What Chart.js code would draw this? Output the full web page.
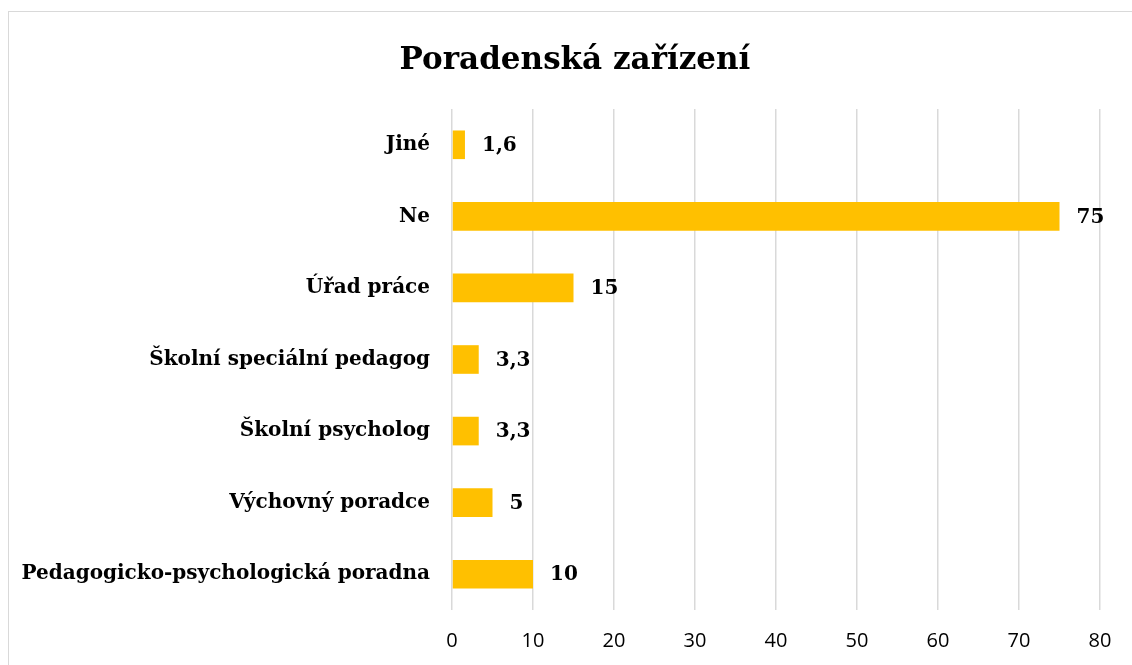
<!DOCTYPE html>
<html>
<head>
<meta charset="utf-8">
<script src="https://cdn.jsdelivr.net/npm/chart.js@4.4.1/dist/chart.umd.min.js"></script>
<style>
  html, body { margin: 0; padding: 0; background: #fff; }
  #wrap { position: relative; width: 1132px; height: 665px; overflow: hidden; }
  #frame { position: absolute; left: 8px; top: 11px; width: 1130px; height: 700px; border: 1px solid #d9d9d9; box-sizing: border-box; }
  canvas { position: absolute; left: 0; top: 0; }
</style>
</head>
<body>
<div id="wrap">
  <div id="frame"></div>
  <canvas id="c" width="1132" height="665"></canvas>
</div>
<script>
const chartTitle = "Poradenská zařízení";
const categories = ["Jiné", "Ne", "Úřad práce", "Školní speciální pedagog", "Školní psycholog", "Výchovný poradce", "Pedagogicko-psychologická poradna"];
const values = [1.6, 75, 15, 3.3, 3.3, 5, 10];
const xTicks = [0, 10, 20, 30, 40, 50, 60, 70, 80];

const serif = "'DejaVu Serif', 'Liberation Serif', serif";
const sans = "'Open Sans', 'Liberation Sans', sans-serif";

const titleDraw = {
  id: 'titleDraw',
  afterDraw(chart) {
    const ctx = chart.ctx;
    ctx.save();
    ctx.font = "bold 31px " + serif;
    ctx.fillStyle = "#000";
    ctx.textAlign = "center";
    ctx.textBaseline = "alphabetic";
    ctx.fillText(chartTitle, 575, 69);
    ctx.restore();
  }
};

const valueLabels = {
  id: 'valueLabels',
  afterDatasetsDraw(chart) {
    const ctx = chart.ctx;
    const meta = chart.getDatasetMeta(0);
    ctx.save();
    ctx.font = "bold 20px " + serif;
    ctx.fillStyle = "#000";
    ctx.textAlign = "left";
    ctx.textBaseline = "middle";
    meta.data.forEach((bar, i) => {
      const txt = String(values[i]).replace('.', ',');
      ctx.fillText(txt, bar.x + 17, bar.y + 1);
    });
    ctx.restore();
  }
};

new Chart(document.getElementById('c'), {
  type: 'bar',
  data: {
    labels: categories,
    datasets: [{
      data: values,
      backgroundColor: '#FFC000',
      borderWidth: 0,
      barPercentage: 0.4,
      categoryPercentage: 1.0
    }]
  },
  options: {
    indexAxis: 'y',
    responsive: false,
    animation: false,
    layout: { padding: { left: 17, right: 32, top: 109, bottom: 0 } },
    plugins: {
      legend: { display: false },
      tooltip: { enabled: false },
      title: { display: false }
    },
    scales: {
      x: {
        min: 0, max: 80,
        afterBuildTicks(axis) { axis.ticks = xTicks.map(v => ({ value: v })); },
        afterFit(axis) { axis.height = 55; },
        grid: { color: '#d9d9d9', lineWidth: 1.5, drawTicks: false },
        border: { display: false },
        ticks: { color: '#000', font: { family: sans, size: 20 }, padding: 19 }
      },
      y: {
        afterFit(axis) { axis.width = 452 - 17; },
        grid: { display: false },
        border: { display: false },
        ticks: { color: '#000', font: { family: serif, size: 20, weight: 'bold' }, padding: 14 }
      }
    }
  },
  plugins: [valueLabels, titleDraw]
});
</script>
</body>
</html>
